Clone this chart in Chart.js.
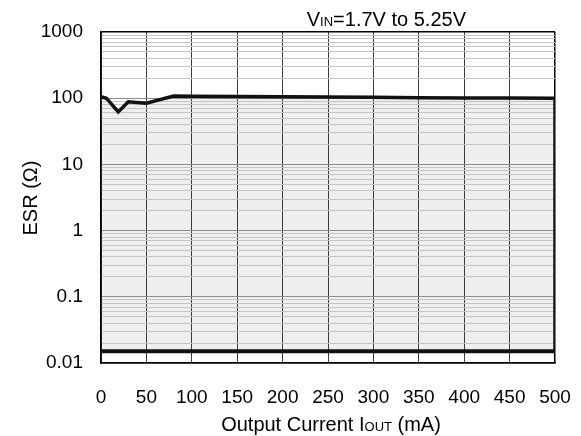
<!DOCTYPE html>
<html>
<head>
<meta charset="utf-8">
<script src="https://cdn.jsdelivr.net/npm/chart.js@4/dist/chart.umd.min.js"></script>
<style>
  body { margin: 0; background: #fff; }
  #wrap { width: 581px; height: 436px; }
</style>
</head>
<body>
<div id="wrap"><canvas id="esrChart" width="581" height="436"></canvas></div>
<script>
// upper boundary of the stable region (ESR in ohm vs output current in mA)
const upperCurrent = [0, 6, 19, 30, 50, 80, 100, 150, 200, 250, 300, 350, 400, 450, 500, 500];
const upperEsr = [105, 100, 62, 88, 84, 108, 107, 106, 105, 104, 103, 102, 101, 101, 100, 0.015];
// lower boundary
const lowerCurrent = [0, 500];
const lowerEsr = [0.015, 0.015];

const xTicks = [0, 50, 100, 150, 200, 250, 300, 350, 400, 450, 500];
const yDecades = [0.01, 0.1, 1, 10, 100, 1000];

const FONT = "'Liberation Sans', Arial, sans-serif";

const toPoints = (xs, ys) => xs.map((x, i) => ({x: x, y: ys[i]}));

// every 1..9 step of each decade, for the minor grid
const yGridTicks = [];
yDecades.forEach((d, i) => {
    if (i == yDecades.length - 1) { yGridTicks.push(d); return; }
    for (let k = 1; k < 10; k++) yGridTicks.push(+(d * k).toPrecision(3));
});

const textPlugin = {
    id: "textPlugin",
    afterDraw(chart) {
        const ctx = chart.ctx;
        ctx.save();
        ctx.fillStyle = "#000";
        ctx.textBaseline = "alphabetic";

        // top note  V_IN=1.7V to 5.25V
        const big = "20px " + FONT, small = "13px " + FONT;
        ctx.font = big; const w1 = ctx.measureText("V").width;
        const w3 = ctx.measureText("=1.7V to 5.25V").width;
        ctx.font = small; const w2 = ctx.measureText("IN").width;
        let x = 466 - (w1 + w2 + w3);
        ctx.font = big; ctx.fillText("V", x, 26); x += w1;
        ctx.font = small; ctx.fillText("IN", x, 26); x += w2;
        ctx.font = big; ctx.fillText("=1.7V to 5.25V", x, 26);

        // x title  Output Current I_OUT (mA)
        ctx.font = big; const a1 = ctx.measureText("Output Current I").width;
        const a3 = ctx.measureText(" (mA)").width;
        ctx.font = small; const a2 = ctx.measureText("OUT").width;
        x = 331 - (a1 + a2 + a3) / 2;
        ctx.font = big; ctx.fillText("Output Current I", x, 431); x += a1;
        ctx.font = small; ctx.fillText("OUT", x, 431); x += a2;
        ctx.font = big; ctx.fillText(" (mA)", x, 431);

        // y title
        ctx.translate(31, 198);
        ctx.rotate(-Math.PI / 2);
        ctx.textAlign = "center";
        ctx.textBaseline = "middle";
        ctx.font = big;
        ctx.fillText("ESR (\u03A9)", 0, 0);
        ctx.restore();
    }
};

new Chart(document.getElementById("esrChart"), {
    type: "line",
    data: {
        datasets: [{
            label: "upper",
            data: toPoints(upperCurrent, upperEsr),
            borderColor: "#111",
            borderWidth: 3.5,
            pointRadius: 0,
            tension: 0,
            fill: 1,
            backgroundColor: "#efefef"
        }, {
            label: "lower",
            data: toPoints(lowerCurrent, lowerEsr),
            borderColor: "#111",
            borderWidth: 4,
            pointRadius: 0,
            fill: false
        }]
    },
    options: {
        responsive: false,
        animation: false,
        layout: {padding: {top: 32, right: 26, left: 0, bottom: 0}},
        plugins: {
            legend: {display: false},
            tooltip: {enabled: false},
            filler: {drawTime: "beforeDraw"}
        },
        scales: {
            x: {
                type: "linear",
                min: 0, max: 500,
                afterBuildTicks: s => { s.ticks = xTicks.map(v => ({value: v})); },
                afterFit: s => { s.height = 73; s.paddingRight = 0; s.paddingLeft = 0; },
                grid: {
                    color: ctx => (ctx.tick && (ctx.tick.value == 500)) ? "#000" : "#3a3a3a",
                    lineWidth: ctx => (ctx.tick && (ctx.tick.value == 500)) ? 1.5 : 1,
                    drawTicks: false
                },
                border: {color: "#000", width: 1.5},
                ticks: {
                    color: "#000",
                    padding: 23,
                    maxRotation: 0,
                    autoSkip: false,
                    font: {family: FONT, size: 19}
                }
            },
            y: {
                type: "logarithmic",
                min: 0.01, max: 1000,
                afterBuildTicks: s => { s.ticks = yGridTicks.map(v => ({value: v})); },
                afterFit: s => { s.width = 101; },
                grid: {
                    color: ctx => {
                        if (!ctx.tick) return "#c4c4c4";
                        if (ctx.tick.value == 1000) return "#000";
                        return yDecades.includes(ctx.tick.value) ? "#8c8c8c" : "#c4c4c4";
                    },
                    lineWidth: ctx => (ctx.tick && ctx.tick.value == 1000) ? 1.5 : 1,
                    drawTicks: false
                },
                border: {color: "#000", width: 1.5},
                ticks: {
                    color: "#000",
                    padding: 18,
                    autoSkip: false,
                    font: {family: FONT, size: 19},
                    callback: v => yDecades.includes(v) ? String(v) : ""
                }
            }
        }
    },
    plugins: [textPlugin]
});
</script>
</body>
</html>
